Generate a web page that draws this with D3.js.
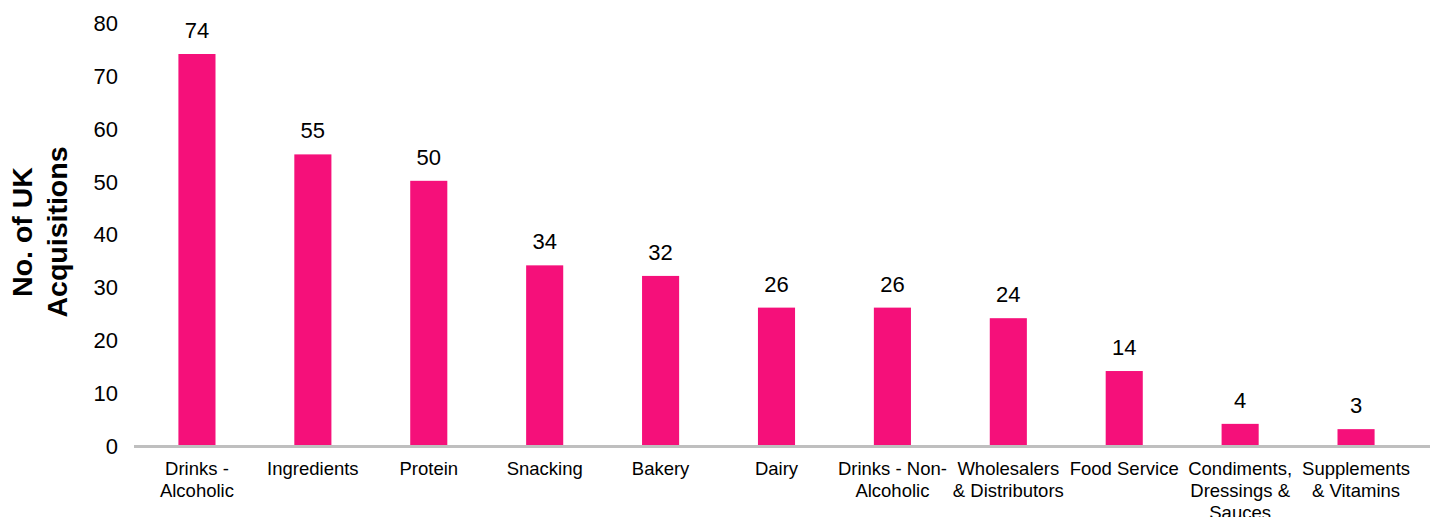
<!DOCTYPE html>
<html>
<head>
<meta charset="utf-8">
<script src="https://cdn.jsdelivr.net/npm/d3@7"></script>
<style>
  html, body { margin: 0; padding: 0; background: #ffffff; }
  svg { display: block; }
  text { font-family: "Liberation Sans", Arial, sans-serif; fill: #000; }
</style>
</head>
<body>
<svg id="chart" width="1435" height="517"></svg>
<script>
// ---- data ----
const categories = [
  "Drinks -\nAlcoholic",
  "Ingredients",
  "Protein",
  "Snacking",
  "Bakery",
  "Dairy",
  "Drinks - Non-\nAlcoholic",
  "Wholesalers\n& Distributors",
  "Food Service",
  "Condiments,\nDressings &\nSauces",
  "Supplements\n& Vitamins"
];
const values = [74, 55, 50, 34, 32, 26, 26, 24, 14, 4, 3];
const yTicks = [0, 10, 20, 30, 40, 50, 60, 70, 80];
const yTitleLines = ["No. of UK", "Acquisitions"];

// ---- layout ----
const svg = d3.select("#chart");
const barColor = "#F5107A";

const x = d3.scaleBand()
  .domain(categories)
  .range([139, 1414])
  .paddingInner(0.68)
  .paddingOuter(0.34);

const y = d3.scaleLinear()
  .domain([0, 80])
  .range([445, 22.3]);

// y tick labels
svg.append("g")
  .selectAll("text")
  .data(yTicks)
  .join("text")
  .attr("x", 118)
  .attr("y", d => y(d) + 1)
  .attr("dy", "0.35em")
  .attr("text-anchor", "end")
  .style("font-size", "22px")
  .text(d => d);

// bars
svg.append("g")
  .selectAll("rect")
  .data(values)
  .join("rect")
  .attr("x", (d, i) => x(categories[i]))
  .attr("y", d => y(d))
  .attr("width", x.bandwidth())
  .attr("height", d => y(0) - y(d))
  .attr("fill", barColor);

// axis line
svg.append("line")
  .attr("x1", 134).attr("x2", 1430)
  .attr("y1", y(0) + 1.5).attr("y2", y(0) + 1.5)
  .attr("stroke", "#BFBFBF")
  .attr("stroke-width", 3);

// value labels
svg.append("g")
  .selectAll("text")
  .data(values)
  .join("text")
  .attr("x", (d, i) => x(categories[i]) + x.bandwidth() / 2)
  .attr("y", d => y(d) - 16)
  .attr("text-anchor", "middle")
  .style("font-size", "22px")
  .text(d => d);

// category labels
const catG = svg.append("g");
categories.forEach((c, i) => {
  const t = catG.append("text")
    .attr("text-anchor", "middle")
    .style("font-size", "18.5px");
  c.split("\n").forEach((line, j) => {
    t.append("tspan")
      .attr("x", x(c) + x.bandwidth() / 2)
      .attr("y", 475 + j * 21.8)
      .text(line);
  });
});

// y title
const tt = svg.append("text")
  .attr("transform", "translate(0,232) rotate(-90)")
  .attr("text-anchor", "middle")
  .style("font-size", "28.5px")
  .style("font-weight", "bold");
yTitleLines.forEach((line, j) => {
  tt.append("tspan")
    .attr("x", 0)
    .attr("y", 32 + j * 35)
    .text(line);
});
</script>
</body>
</html>
